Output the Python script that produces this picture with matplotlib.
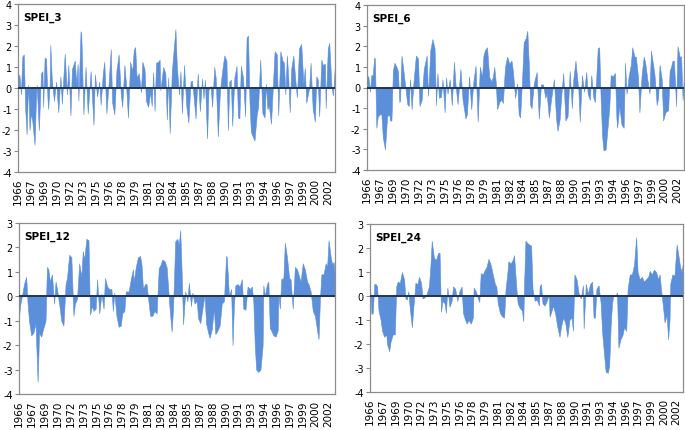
import matplotlib
matplotlib.use("Agg")
import matplotlib.pyplot as plt
import numpy as np

plt.rcParams["axes.unicode_minus"] = False

# ---------------- data (month index since 1966-01, SPEI value) ----------------
n_months = 442
tick_step = 18
start_year = 1966

spei3_month = [0,2,4,6,8,10,12,14,15,16,18,20,23,25,26,29,31,32,34,35,37,39,41,42,44,45,47,50,53,56,59,61,65,68,70,73,75,79,81,83,84,87,88,91,94,97,101,105,107,110,113,115,118,120,123,126,129,131,134,137,140,143,145,148,150,153,156,159,161,163,165,168,171,173,176,178,181,184,186,188,190,192,195,197,198,202,205,207,209,211,214,217,219,221,224,226,228,231,234,237,240,242,244,247,250,253,256,258,260,263,265,268,270,273,275,278,281,284,287,290,292,294,296,298,301,304,306,308,310,313,316,318,320,322,324,327,329,332,334,337,340,343,345,347,349,352,354,357,360,362,365,368,370,372,374,376,378,380,383,386,388,391,394,397,399,401,405,407,410,413,415,417,419,422,424,427,428,431,433,436,438,439,441]
spei3_value = [0.65,0.6,-0.3,1.5,1.6,-1.0,-2.2,0.15,-0.7,-2.0,-1.2,-1.6,-2.7,-0.5,0.15,-2.0,-0.2,0.7,0.8,-0.9,1.45,1.4,-0.5,-1.0,0.2,2.05,0.4,-0.6,0.3,-1.15,0.55,-0.75,1.65,-0.3,1.1,-1.3,0.9,1.3,0.2,1.15,-0.6,2.7,2.6,-1.25,1.0,-1.2,0.8,-1.75,0.65,-0.4,0.3,-0.8,0.7,1.25,-1.2,0.2,1.85,-0.7,-1.25,0.85,1.6,-0.3,-0.9,1.1,0.3,-1.4,1.25,0.8,1.8,1.95,0.5,0.7,-0.2,1.25,0.9,-0.6,-0.9,-0.2,-0.85,0.75,-1.1,1.2,1.25,1.35,-0.1,1.0,0.7,-1.5,0.5,-2.15,0.8,2.0,2.8,1.0,-0.3,0.8,-1.2,1.1,-0.8,-1.65,0.3,0.35,-0.3,-1.45,0.7,-1.1,0.45,-0.5,0.4,-2.4,-0.1,0.1,-0.9,1.0,0.5,-2.3,-0.1,0.8,1.55,1.3,-2.0,0.3,0.4,-1.8,0.5,1.05,-1.4,-1.45,1.05,0.5,-1.35,2.4,2.5,-0.6,-2.1,-2.35,-2.5,-1.3,-0.9,1.35,-1.2,-1.4,0.2,-1.0,-0.85,-1.7,-0.3,1.75,1.6,-1.3,1.75,1.3,1.2,-0.3,1.55,0.5,-1.15,0.9,1.55,0.3,-0.45,1.9,2.1,0.2,0.95,-0.7,0.0,1.2,-1.0,-1.6,0.55,0.4,-1.35,1.35,1.1,1.15,-0.95,1.9,2.15,0.1,-0.35,0.05,1.15]

spei6_month = [0,2,4,6,8,10,11,13,15,18,20,22,25,28,31,32,34,36,38,41,43,45,46,48,50,53,56,58,60,62,65,68,71,73,76,79,83,85,88,91,94,96,98,100,103,105,108,110,112,115,118,121,123,126,130,133,137,139,142,145,148,151,154,157,160,162,164,167,170,173,175,177,179,181,184,187,189,192,195,198,201,203,206,209,211,213,216,218,221,223,225,227,229,232,236,239,242,245,248,250,253,256,260,263,265,268,270,273,276,279,282,285,287,290,294,296,299,302,305,307,310,312,315,317,319,321,323,325,327,329,332,334,337,339,342,345,347,348,351,354,357,359,361,364,367,369,372,374,377,379,382,385,387,390,393,395,398,400,403,405,407,410,412,415,419,421,423,425,427,430,432,435,437,439,441]
spei6_value = [0.6,0.5,-0.2,0.6,0.6,1.45,1.4,-1.95,-1.4,-1.3,-1.3,-2.4,-3.0,-1.4,-1.3,-1.6,-1.6,0.8,1.2,1.0,0.8,-0.7,-0.65,1.55,1.0,0.1,-0.8,-0.9,0.4,-1.05,0.4,1.55,1.4,-0.9,-0.6,0.9,1.55,-0.4,1.8,2.35,1.9,-0.85,0.7,-0.5,-0.45,0.4,-1.2,0.5,-0.3,0.4,-0.85,1.25,0.2,-0.8,0.9,-0.6,-1.5,-1.3,0.55,-1.05,0.3,1.05,-1.65,1.0,0.5,1.55,1.8,1.95,0.5,0.3,0.5,1.0,0.3,-1.05,-0.7,-0.6,-0.75,1.0,1.5,1.15,1.3,0.8,-0.5,0.2,-1.3,-1.45,0.6,2.2,2.4,2.75,1.2,-0.85,-1.0,0.2,0.75,-1.5,0.15,0.15,-0.5,-0.3,-1.45,-0.6,0.4,-1.5,-2.1,-1.55,-0.5,0.7,-1.6,-1.4,0.8,-1.0,0.4,1.3,-0.1,-1.65,0.6,-0.2,0.75,-0.3,-0.6,0.6,-0.5,-0.7,0.5,1.9,1.95,-0.5,-2.3,-3.05,-3.0,-2.2,-1.0,0.6,0.55,0.7,-1.5,-1.95,-0.9,-1.8,-1.95,1.2,-0.3,0.55,1.1,1.95,1.5,1.5,0.5,-1.2,0.6,1.5,1.2,0.4,-0.3,1.8,1.1,0.6,-0.85,-0.5,1.1,0.4,-1.6,-1.2,-1.1,0.8,1.0,1.3,1.3,-0.9,2.0,1.5,1.5,-0.6,0.55]

spei12_month = [0,2,4,7,10,12,14,17,20,23,26,28,31,34,37,39,41,43,46,49,51,53,56,59,62,65,67,70,73,76,78,81,84,87,89,91,94,97,99,102,104,107,109,112,115,118,120,123,126,129,131,133,136,139,142,144,147,149,153,156,159,160,163,166,169,171,173,176,178,181,183,186,189,192,195,197,200,203,206,209,210,213,215,218,221,223,225,227,229,232,235,237,240,242,245,248,250,253,256,259,261,264,266,269,272,274,277,280,283,286,289,290,293,296,298,300,302,305,308,311,313,316,319,322,325,327,329,331,334,337,340,341,343,346,348,350,352,355,358,361,362,364,366,369,371,374,377,379,382,385,388,391,393,396,399,402,404,407,410,413,416,418,420,422,425,428,430,432,435,437,439,441]
spei12_value = [-0.8,-0.3,0.0,0.5,0.8,-0.3,-1.0,-1.6,-1.5,-1.1,-3.5,-1.5,-1.65,-1.3,-1.0,1.2,1.1,0.6,0.9,-0.3,0.6,0.3,-0.3,-1.0,-1.2,0.5,0.75,1.7,1.6,-0.8,-0.3,-0.1,1.35,0.8,1.85,1.5,2.35,2.3,-0.75,-0.4,-0.6,-0.5,0.7,-0.7,0.1,-0.5,0.75,0.4,0.3,0.3,-0.6,0.15,-0.8,-1.25,-1.2,-0.7,-0.6,0.2,0.2,0.7,1.1,0.6,1.2,1.6,1.65,1.3,0.3,0.5,0.5,-0.3,-0.8,-0.8,-0.6,-0.7,1.15,1.25,1.5,1.45,1.2,0.0,-0.45,-1.45,-0.5,2.25,2.35,2.1,2.7,1.0,-1.15,0.2,-0.2,0.55,-0.4,0.15,-0.3,-0.2,-0.9,-1.1,-0.5,0.05,-1.1,-1.5,-1.7,-1.35,-0.5,-1.55,-1.4,-1.2,-0.3,-0.2,1.65,1.6,0.0,0.3,-2.0,-0.3,0.45,0.5,0.4,0.7,-0.5,-0.55,0.4,0.3,0.4,-0.2,-2.0,-3.0,-3.1,-3.0,-2.0,0.45,0.0,0.5,0.6,-1.3,-1.4,-1.6,-1.65,-1.4,0.05,-0.5,0.7,0.75,2.2,1.6,0.75,0.7,-0.5,1.2,1.1,0.8,0.6,1.35,1.1,0.6,0.5,0.2,-0.6,-0.8,-1.4,-1.75,-0.1,0.9,0.9,1.35,1.2,2.3,1.6,1.3,1.4,0.7]

spei24_month = [0,2,4,6,8,10,12,15,17,20,23,24,27,29,32,35,37,39,42,45,48,50,52,54,56,59,61,64,67,69,72,74,77,80,83,85,87,90,93,96,98,100,102,105,107,109,112,115,117,120,123,126,129,131,133,136,139,142,145,146,149,152,154,156,159,162,164,167,170,173,176,178,180,183,186,189,191,193,195,198,201,203,206,208,211,214,216,217,219,222,224,227,229,232,235,238,239,241,243,246,249,252,253,255,258,261,264,267,269,272,275,278,281,284,286,288,291,294,297,300,301,304,307,310,313,315,317,319,322,325,327,330,332,335,337,339,341,343,346,348,350,353,356,358,361,363,366,369,372,375,377,380,383,386,389,392,394,397,400,403,406,408,410,413,415,418,420,422,423,426,429,432,435,437,439,441]
spei24_value = [0.4,-0.75,-0.7,0.5,0.5,0.4,-0.6,-1.0,-1.45,-1.7,-1.6,-2.0,-2.3,-1.9,-1.6,-1.6,0.4,0.6,0.55,1.0,0.7,-0.1,-0.15,0.2,-0.5,-1.3,-0.5,0.55,0.5,0.8,0.55,-0.1,-0.05,0.1,0.4,1.2,2.3,1.6,1.5,1.8,1.8,-0.65,-0.2,-0.3,-0.7,0.35,-0.45,-0.2,0.4,0.3,-0.2,0.2,0.4,-0.7,-0.9,-1.15,-1.0,-1.15,-0.9,0.35,0.2,-0.1,-0.25,0.95,0.9,1.1,1.2,1.55,1.3,0.9,0.5,0.4,-0.3,-0.7,-0.85,-0.9,0.3,0.8,1.45,1.35,1.5,1.7,0.4,-0.3,-0.5,-0.6,-1.05,0.4,2.3,2.2,2.15,2.1,0.3,-0.2,-0.15,-0.4,0.4,0.5,-0.3,-0.4,-0.2,0.05,-0.85,-0.7,-0.4,-0.75,-1.3,-1.7,-1.3,-0.9,-1.1,-1.7,-1.0,-0.9,-1.45,0.9,0.7,0.1,-0.1,0.45,-1.35,0.5,0.1,0.5,0.6,-0.9,-0.9,0.3,0.45,-0.3,-1.5,-2.5,-3.15,-3.2,-2.9,-1.3,-0.3,0.05,0.0,0.15,-2.15,-1.8,-1.6,-1.3,-1.45,0.3,0.9,0.9,1.3,2.45,1.0,0.7,0.8,0.6,0.7,0.8,1.05,0.9,1.1,1.0,0.7,0.9,0.3,-0.5,-1.1,-0.8,-1.8,-1.0,0.5,0.9,0.85,2.15,1.6,1.2,1.0,1.4]

titles = ["SPEI_3", "SPEI_6", "SPEI_12", "SPEI_24"]
ylims = [(-4, 4), (-4, 4), (-4, 3), (-4, 3)]

tick_pos = list(range(0, n_months - 1, tick_step))
tick_labels = [str(int(start_year + p / 12)) for p in tick_pos]

# ---------------- figure ----------------
W, H = 685, 431
fig = plt.figure(figsize=(W / 100, H / 100), dpi=100)

def rect(l, t, r, b):
    return [l / W, 1 - b / H, (r - l) / W, (b - t) / H]

rects = [rect(18, 5, 335, 173), rect(367, 6, 684, 171),
         rect(19, 224, 335, 395), rect(370, 225, 683, 393)]

series = [(spei3_month, spei3_value), (spei6_month, spei6_value),
          (spei12_month, spei12_value), (spei24_month, spei24_value)]

fill_color = "#5B8FDA"
for rc, (mx, vals), title, yl in zip(rects, series, titles, ylims):
    ax = fig.add_axes(rc)
    mx = np.asarray(mx, float)
    vals = np.asarray(vals, float)
    ax.fill_between(mx, 0, vals, color=fill_color, linewidth=0.4,
                    edgecolor=fill_color)
    ax.axhline(0, color="#243447", linewidth=1.4, zorder=3)
    ax.set_xlim(0, n_months - 1)
    ax.set_ylim(*yl)
    yt = list(range(yl[0], yl[1] + 1))
    ax.set_yticks(yt)
    ax.set_yticklabels([str(v) for v in yt])
    ax.set_xticks(tick_pos)
    ax.set_xticklabels(tick_labels, rotation=90, fontsize=7.5)
    ax.tick_params(axis="x", length=0, pad=4)
    ax.tick_params(axis="y", length=3, width=0.8, color="#888888",
                   labelsize=7, pad=1.5)
    for s in ax.spines.values():
        s.set_color("#8c8c8c")
        s.set_linewidth(0.9)
    ax.text(0.016, 0.955, title, transform=ax.transAxes, fontsize=7.5,
            fontweight="bold", va="top", ha="left")

fig.savefig("out.png", dpi=100)
